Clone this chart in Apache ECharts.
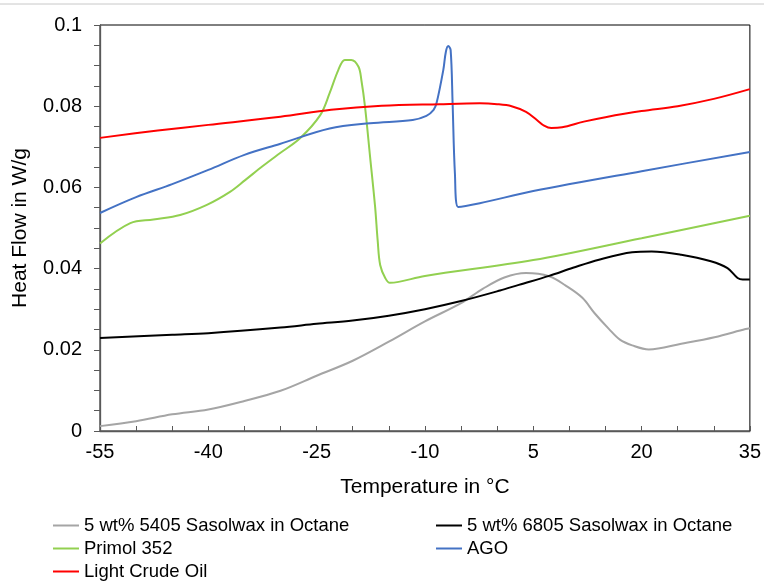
<!DOCTYPE html>
<html><head><meta charset="utf-8">
<script src="https://cdn.jsdelivr.net/npm/echarts@6/dist/echarts.min.js"></script>
<style>html,body{margin:0;padding:0;background:#fff}#c{width:764px;height:583px}</style>
</head><body><div id="c"></div>
<script>
const xLabelTicks = [-55, -40, -25, -10, 5, 20, 35];
const xMinorTicks = [-55, -50, -45, -40, -35, -30, -25, -20, -15, -10, -5, 0, 5, 10, 15, 20, 25, 30, 35];
const yTicks = [0, 0.02, 0.04, 0.06, 0.08, 0.1];

const names = ['5 wt% 5405 Sasolwax in Octane', '5 wt% 6805 Sasolwax in Octane', 'Primol 352', 'AGO', 'Light Crude Oil'];

const sas5405T = [-55, -50, -45, -40, -35, -30, -25, -20, -15, -10, -5, -2, 1, 4, 7.2, 9.5, 11.8, 13.5, 15.5, 17, 18.7, 21, 25.5, 30.1, 34.4, 35];
const sas5405V = [0.0012, 0.0024, 0.0041, 0.0053, 0.0074, 0.0099, 0.0136, 0.0173, 0.0220, 0.0270, 0.0315, 0.0350, 0.0378, 0.0389, 0.0381, 0.0358, 0.0328, 0.0290, 0.0251, 0.0225, 0.0211, 0.0201, 0.0215, 0.0231, 0.0251, 0.0253];

const sas6805T = [-55, -45, -40, -30, -25, -20, -15, -10, -5, 0.4, 3, 7.2, 10.5, 14.1, 18.7, 21.4, 25.5, 29.6, 31.9, 33.3, 34, 35];
const sas6805V = [0.0229, 0.0237, 0.0241, 0.0255, 0.0264, 0.0272, 0.0284, 0.0300, 0.0320, 0.0346, 0.0360, 0.0382, 0.0402, 0.0422, 0.0440, 0.0442, 0.0434, 0.0418, 0.0401, 0.0377, 0.0373, 0.0373];

const primolT = [-55, -50.8, -47.6, -43.9, -40.2, -37, -34.9, -32.5, -30.1, -27.3, -24.5, -23.2, -22, -21.1, -20.2, -19.2, -18.8, -18.3, -17.6, -16.9, -16.55, -16.2, -15.5, -14.85, -10, 5, 20, 35];
const primolV = [0.0462, 0.0512, 0.0521, 0.0532, 0.0557, 0.0589, 0.0618, 0.0652, 0.0684, 0.0721, 0.0778, 0.0832, 0.0889, 0.0914, 0.0914, 0.0897, 0.0864, 0.0799, 0.0676, 0.0552, 0.0470, 0.0409, 0.0377, 0.0365, 0.0382, 0.0421, 0.0475, 0.0530];

const agoT = [-55, -50, -45, -40, -35, -30.1, -23.2, -17.6, -11.7, -9.8, -8.8, -8.4, -7.46, -7.1, -6.77, -6.44, -6.17, -5.85, -5.4, -2.4, 5, 20, 35];
const agoV = [0.0537, 0.0576, 0.0608, 0.0643, 0.0680, 0.0707, 0.0745, 0.0758, 0.0766, 0.0776, 0.0791, 0.0807, 0.0889, 0.0934, 0.0948, 0.0938, 0.0808, 0.0635, 0.0552, 0.0561, 0.0591, 0.0640, 0.0687];

const crudeT = [-55, -47, -40, -30, -23, -16, -8, -2.4, 0, 2, 4, 5.5, 6.5, 7.5, 9, 12, 15, 20, 25, 30, 35];
const crudeV = [0.0722, 0.0740, 0.0754, 0.0774, 0.0791, 0.0801, 0.0805, 0.0807, 0.0805, 0.0800, 0.0786, 0.0766, 0.0752, 0.0746, 0.0748, 0.0762, 0.0773, 0.0788, 0.0800, 0.0818, 0.0842];

const colors = ['#A5A5A5', '#000000', '#92D050', '#4472C4', '#FF0000'];
const seriesT = [sas5405T, sas6805T, primolT, agoT, crudeT];
const seriesV = [sas5405V, sas6805V, primolV, agoV, crudeV];

const FONT = 'Liberation Sans, Arial, sans-serif';
const chart = echarts.init(document.getElementById('c'), null, {renderer: 'canvas'});

const series = names.map((n, i) => ({
  name: n, type: 'line', showSymbol: false, smooth: 0.35,
  data: seriesT[i].map((t, k) => [t, seriesV[i][k]]),
  lineStyle: {color: colors[i], width: 2}, itemStyle: {color: colors[i]},
  emphasis: {disabled: true}, z: 2 + i
}));

const legendCommon = {
  orient: 'vertical', icon: 'rect', itemWidth: 26, itemHeight: 2, itemGap: 4, padding: 0,
  height: 70,
  textStyle: {fontFamily: FONT, fontSize: 18.5, color: '#000', lineHeight: 19}, selectedMode: false
};

chart.setOption({
  animation: false,
  textStyle: {fontFamily: FONT},
  graphic: [{type: 'line', shape: {x1: 0, y1: 4, x2: 764, y2: 4}, style: {stroke: '#c8c8c8', lineWidth: 1}}],
  grid: {left: 100, right: 14, top: 25, bottom: 152, show: true, borderColor: '#000', borderWidth: 1},
  xAxis: {
    type: 'value', min: -55, max: 35,
    name: 'Temperature in °C', nameLocation: 'middle', nameGap: 46,
    nameTextStyle: {fontFamily: FONT, fontSize: 21, color: '#000'},
    axisLine: {show: true, onZero: false, lineStyle: {color: '#595959', width: 1.3}},
    axisTick: {show: true, inside: true, length: 5, customValues: xMinorTicks, lineStyle: {color: '#595959'}},
    axisLabel: {customValues: xLabelTicks, fontFamily: FONT, fontSize: 20, color: '#000', margin: 11},
    splitLine: {show: false}
  },
  yAxis: {
    type: 'value', min: 0, max: 0.1, interval: 0.02,
    name: 'Heat Flow in W/g', nameLocation: 'middle', nameGap: 69,
    nameTextStyle: {fontFamily: FONT, fontSize: 21, color: '#000'},
    axisLine: {show: true, onZero: false, lineStyle: {color: '#595959', width: 1.3}},
    axisTick: {show: true, inside: false, length: 6, lineStyle: {color: '#595959'}},
    minorTick: {show: true, splitNumber: 4, length: 6, lineStyle: {color: '#595959'}},
    axisLabel: {fontFamily: FONT, fontSize: 20, color: '#000', margin: 18},
    splitLine: {show: false}
  },
  legend: [
    Object.assign({left: 53, top: 516, data: [names[0], names[2], names[4]]}, legendCommon),
    Object.assign({left: 436, top: 516, data: [names[1], names[3]]}, legendCommon)
  ],
  series: series
});
</script>
</body></html>
